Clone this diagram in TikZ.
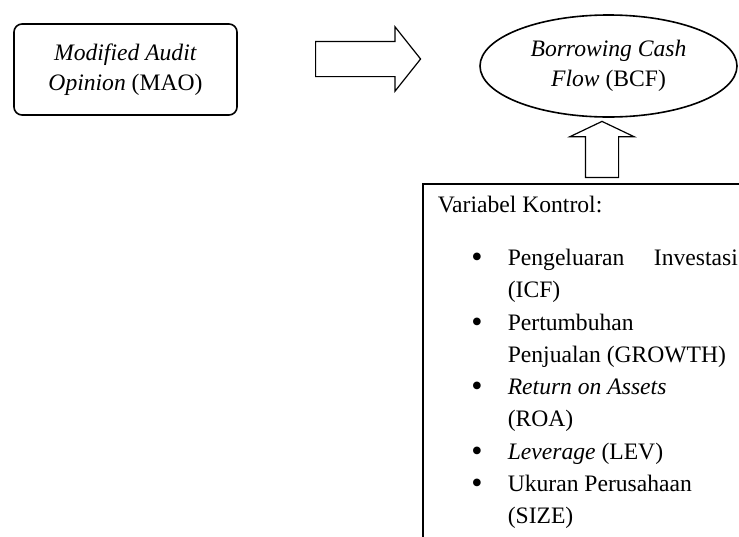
\documentclass[tikz,border=0pt]{standalone}
\usepackage{fontspec}
\setmainfont{Liberation Serif}
\usetikzlibrary{shapes.geometric,shapes.arrows}

\begin{document}
\begin{tikzpicture}[x=.5pt,y=-.5pt,line width=.8pt,
  font=\fontsize{11.8}{15.2}\selectfont,
  txt/.style={anchor=base west,inner sep=0},
  dot/.style={anchor=base,inner sep=0,font=\fontsize{16}{16}\selectfont,yshift=-1pt},
  fat/.style={draw,single arrow,fill=white,anchor=tail,line width=.6pt}]
  \clip (0,0) rectangle (739,536);
  % top row
  \node[draw,rounded corners=4pt,minimum width=111.5pt,minimum height=45.5pt,
    align=center,inner sep=0] (mao) at (125.5,69.5)
    {\textit{Modified Audit}\\\textit{Opinion} (MAO)};
  \node[draw,ellipse,minimum width=128.5pt,minimum height=51pt,
    align=center,inner sep=0] (bcf) at (608.5,66)
    {\textit{Borrowing Cash}\\\textit{Flow} (BCF)};
  \node[fat,minimum height=52.5pt,inner sep=8.5pt,single arrow head extend=7.25pt,
    single arrow tip angle=103] (maoArrow) at (315,59) {};
  \node[fat,shape border rotate=90,minimum height=28pt,inner sep=8pt,
    single arrow head extend=7.75pt,single arrow tip angle=129] (ctrlArrow) at (602,178) {};
  % control box
  \node[draw,anchor=north west,minimum width=180pt,minimum height=200pt,inner sep=0] (ctrl) at (422,183) {};
  \node[txt] (ttl) at (437,212) {Variabel Kontrol:};
  \node[dot] (b1) at (477,265) {\textbullet};
  \node[dot] (b2) at (477,330) {\textbullet};
  \node[dot] (b3) at (477,394) {\textbullet};
  \node[dot] (b4) at (477,459) {\textbullet};
  \node[dot] (b5) at (477,491) {\textbullet};
  \node[txt] (i1a) at (507,265) {\makebox[115pt][s]{Pengeluaran Investasi}};
  \node[txt] (i1b) at (507,297) {(ICF)};
  \node[txt] (i2a) at (507,330) {Pertumbuhan};
  \node[txt] (i2b) at (507,362) {Penjualan (GROWTH)};
  \node[txt] (i3a) at (507,394) {\textit{Return on Assets}};
  \node[txt] (i3b) at (507,426) {(ROA)};
  \node[txt] (i4a) at (507,459) {\textit{Leverage} (LEV)};
  \node[txt] (i5a) at (507,491) {Ukuran Perusahaan};
  \node[txt] (i5b) at (507,523) {(SIZE)};
\end{tikzpicture}
\end{document}
